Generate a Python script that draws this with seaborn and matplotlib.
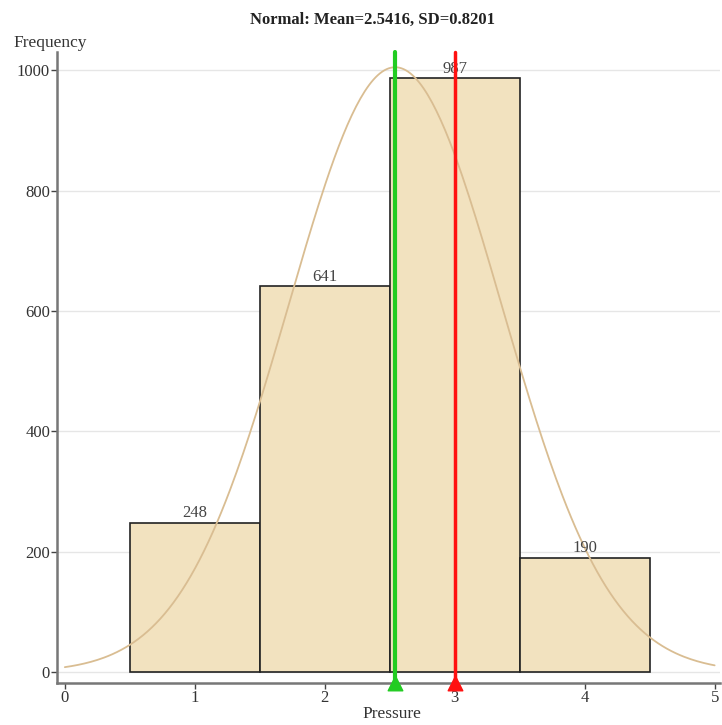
import numpy as np
import pandas as pd
import matplotlib
matplotlib.use("Agg")
import matplotlib.pyplot as plt
import seaborn as sns

# Histogram of pressure readings
bin_centers = [1, 2, 3, 4]
bin_edges = [0.5, 1.5, 2.5, 3.5, 4.5]
counts = [248, 641, 987, 190]
mean_val = 2.5416
sd_val = 0.8201
median_val = 3.0
x_ticks = [0, 1, 2, 3, 4, 5]
y_ticks = [0, 200, 400, 600, 800, 1000]

sns.set_theme(style="white")
plt.rcParams["font.family"] = ["Liberation Serif", "DejaVu Serif"]

fig = plt.figure(figsize=(7.22, 7.25), dpi=100)
ax = fig.add_axes([0.079, 0.058, 0.918, 0.870])

df = pd.DataFrame({"Pressure": bin_centers, "count": counts})
sns.histplot(data=df, x="Pressure", weights="count", bins=bin_edges,
             color="#f2e2bf", alpha=1.0, edgecolor="#222222", linewidth=1.2, ax=ax)

# Fitted normal curve scaled to total count and bin width
n_total = sum(counts)
bin_width = bin_edges[1] - bin_edges[0]
xs = np.linspace(x_ticks[0], x_ticks[-1], 300)
ys = n_total * bin_width * np.exp(-0.5 * ((xs - mean_val) / sd_val) ** 2) / (sd_val * np.sqrt(2 * np.pi))
sns.lineplot(x=xs, y=ys, color="#d9bd92", linewidth=1.3, ax=ax)

ax.set_xlim(-0.06, 5.04)
ax.set_ylim(-18, 1030)

# Mean and median markers
ax.plot([mean_val, mean_val], [-18, 1030], color="#22cc22", linewidth=3, zorder=5, clip_on=False)
ax.plot([median_val, median_val], [-18, 1030], color="#ff1111", linewidth=2.5, zorder=5, clip_on=False)
ax.scatter([mean_val], [-18], marker="^", s=110, color="#22cc22", zorder=6, clip_on=False)
ax.scatter([median_val], [-18], marker="^", s=110, color="#ff1111", zorder=6, clip_on=False)

# Count labels above bars
for c in ax.containers:
    ax.bar_label(c, labels=[str(v) for v in counts], padding=1, fontsize=12, color="#444444")

ax.set_xticks(x_ticks)
ax.set_yticks(y_ticks)
ax.tick_params(axis="both", labelsize=12, colors="#444444", length=4, width=1,
               direction="out", bottom=True, left=True, pad=1)
for lab in ax.get_xticklabels() + ax.get_yticklabels():
    lab.set_color("#333333")
ax.grid(axis="y", color="#e6e6e6", linewidth=1)
ax.set_axisbelow(True)
for side in ["top", "right"]:
    ax.spines[side].set_visible(False)
for side in ["left", "bottom"]:
    ax.spines[side].set_color("#777777")
    ax.spines[side].set_linewidth(1.8)

ax.set_xlabel("")
ax.set_ylabel("")
fig.text(0.543, 0.015, "Pressure", fontsize=12.5, color="#333333", ha="center", va="center")
fig.text(0.018, 0.930, "Frequency", fontsize=12.5, color="#333333", ha="left", va="bottom")
fig.text(0.516, 0.962, "Normal: Mean=2.5416, SD=0.8201", fontsize=12, fontweight="bold",
         color="#222222", ha="center", va="bottom")

fig.savefig("out.png", dpi=100)
